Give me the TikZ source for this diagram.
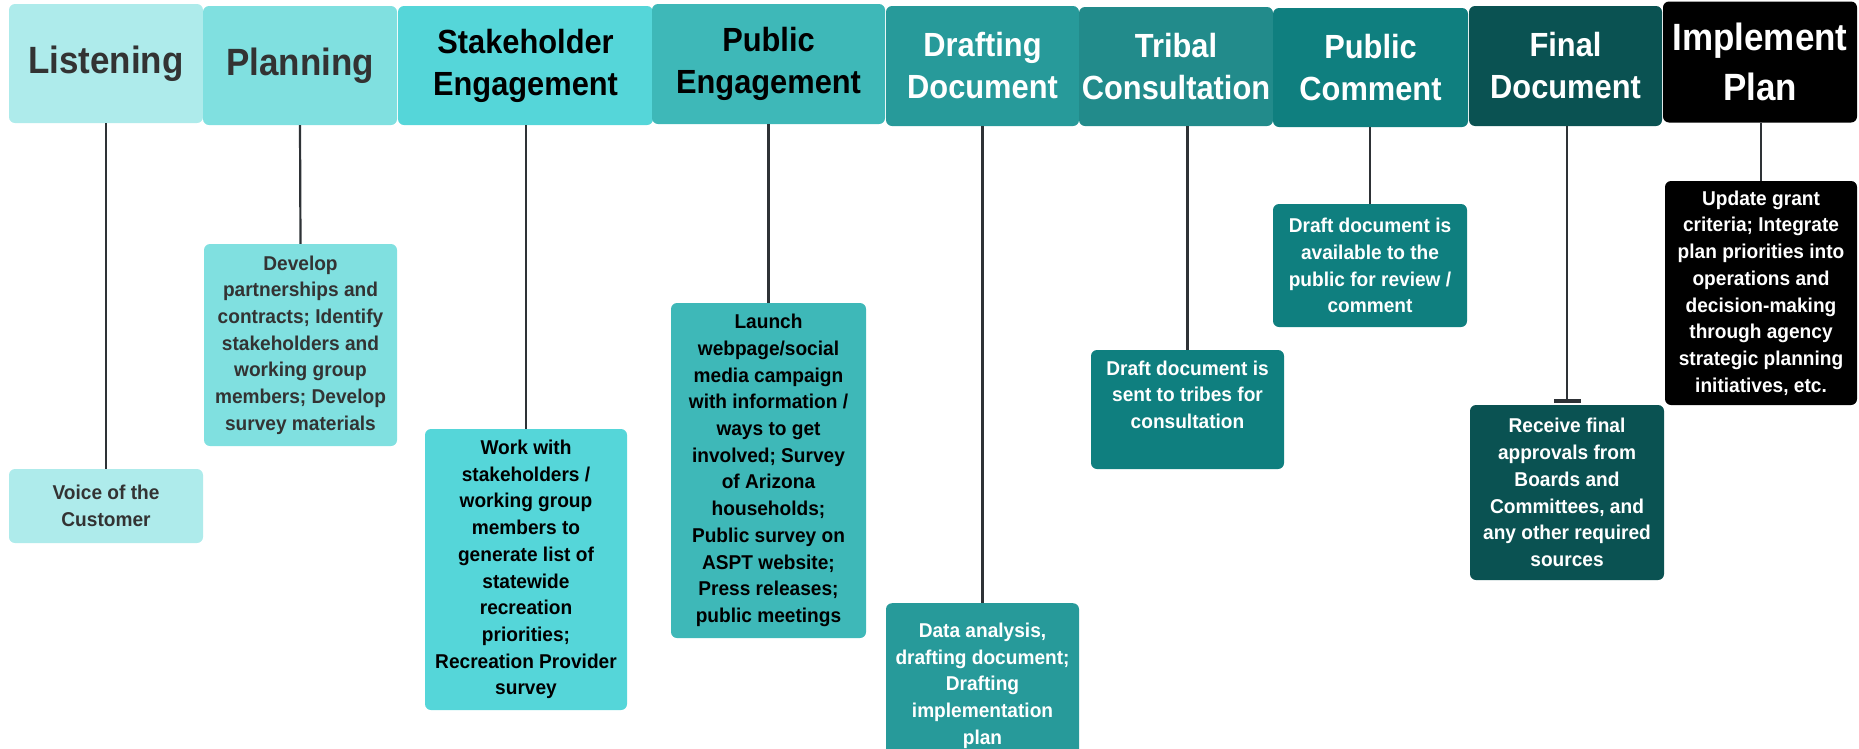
\documentclass[tikz,border=0pt]{standalone}
\usepackage{fontspec}
\setmainfont{Liberation Sans}[FakeStretch=0.955]
\newfontfamily\hdrfont{Liberation Sans}[FakeStretch=0.92]
\usetikzlibrary{arrows.meta}
\definecolor{cA}{HTML}{AEEBEB}
\definecolor{cB}{HTML}{80E0E0}
\definecolor{cC}{HTML}{55D6D9}
\definecolor{cD}{HTML}{3EB8B8}
\definecolor{cE}{HTML}{279A9A}
\definecolor{cF}{HTML}{228B8B}
\definecolor{cFd}{HTML}{0F7F7F}
\definecolor{cG}{HTML}{0F7F7F}
\definecolor{cH}{HTML}{0A5252}
\definecolor{cI}{HTML}{000000}
\definecolor{grayText}{HTML}{333333}
\definecolor{linec}{HTML}{2E3236}
\tikzset{
  x=1pt, y=-1pt,
  hdr/.style={rounded corners=6pt, inner sep=0pt, align=center,
    font=\hdrfont\bfseries\fontsize{33.5}{42}\selectfont},
  hdrbig/.style={hdr, font=\hdrfont\bfseries\fontsize{38}{44}\selectfont},
  det/.style={rounded corners=6pt, inner sep=0pt, align=center,
    font=\bfseries\fontsize{20}{26.7}\selectfont},
  dettext/.style={inner sep=0pt, align=center,
    font=\bfseries\fontsize{20}{26.7}\selectfont},
  link/.style={draw=linec, line width=2.2pt}
}
\begin{document}
\begin{tikzpicture}
\useasboundingbox (0,0) rectangle (1859,748);
% headers
\node[hdrbig, fill=cA, text=grayText, minimum width=194pt, minimum height=119pt] (hL) at (106,63.5) {Listening};
\node[hdrbig, fill=cB, text=grayText, minimum width=194pt, minimum height=119pt] (hP) at (300,65.5) {Planning};
\node[hdr, fill=cC, text=black, minimum width=255pt, minimum height=119pt] (hS) at (525.5,65.5) {Stakeholder\\Engagement};
\node[hdr, fill=cD, text=black, minimum width=233pt, minimum height=120pt] (hPE) at (768.5,64) {Public\\Engagement};
\node[hdr, fill=cE, text=white, minimum width=193pt, minimum height=120pt] (hD) at (982.5,66) {Drafting\\Document};
\node[hdr, fill=cF, text=white, minimum width=194pt, minimum height=119pt] (hT) at (1176,66.5) {Tribal\\Consultation};
\node[hdr, fill=cG, text=white, minimum width=195pt, minimum height=119pt] (hPC) at (1370.5,67.5) {Public\\Comment};
\node[hdr, fill=cH, text=white, minimum width=193pt, minimum height=120pt] (hF) at (1565.5,66) {Final\\Document};
\node[hdr, fill=cI, text=white, minimum width=194pt, minimum height=121pt,
  font=\hdrfont\bfseries\fontsize{38}{50}\selectfont] (hI) at (1760,62) {Implement\\Plan};
% details
\node[det, fill=cA, text=grayText, minimum width=194pt, minimum height=74pt] (dL) at (106,506) {Voice of the\\Customer};
\node[det, fill=cB, text=grayText, minimum width=193pt, minimum height=202pt] (dP) at (300.5,345) {Develop\\partnerships and\\contracts; Identify\\stakeholders and\\working group\\members; Develop\\survey materials};
\node[det, fill=cC, text=black, minimum width=202pt, minimum height=281pt] (dS) at (526,569.5) {Work with\\stakeholders /\\working group\\members to\\generate list of\\statewide\\recreation\\priorities;\\Recreation Provider\\survey};
\node[det, fill=cD, text=black, minimum width=195pt, minimum height=335pt] (dPE) at (768.5,470.5) {Launch\\webpage/social\\media campaign\\with information /\\ways to get\\involved; Survey\\of Arizona\\households;\\Public survey on\\ASPT website;\\Press releases;\\public meetings};
\node[det, fill=cE, text=white, minimum width=193pt, minimum height=165pt, anchor=north] (dD) at (982.5,603) {Data analysis,\\drafting document;\\Drafting\\implementation\\plan};
\node[det, fill=cFd, minimum width=193pt, minimum height=119pt] (dT) at (1187.5,409.5) {};
\node[dettext, text=white, anchor=north] (dTt) at (1187.5,360.5) {Draft document is\\sent to tribes for\\consultation};
\node[det, fill=cG, text=white, minimum width=194pt, minimum height=123pt] (dPC) at (1370,265.5) {Draft document is\\available to the\\public for review /\\comment};
\node[det, fill=cH, text=white, minimum width=194pt, minimum height=175pt] (dF) at (1567,492.5) {Receive final\\approvals from\\Boards and\\Committees, and\\any other required\\sources};
\node[det, fill=cI, text=white, minimum width=192pt, minimum height=224pt] (dI) at (1761,293) {Update grant\\criteria; Integrate\\plan priorities into\\operations and\\decision-making\\through agency\\strategic planning\\initiatives, etc.};
% connectors
\draw[link] (hL.south) -- (dL.north);
\draw[link] (hP.south) -- (dP.north);
\draw[link] (dS.north |- hS.south) -- (dS.north);
\draw[link] (hPE.south) -- (dPE.north);
\draw[link] (hD.south) -- (dD.north);
\draw[link] (dT.north |- hT.south) -- (dT.north);
\draw[link] (dPC.north |- hPC.south) -- (dPC.north);
\draw[link, -{Bar[width=27pt, line width=3.5pt]}] (dF.north |- hF.south) -- ([yshift=2pt]dF.north);
\draw[link] (dI.north |- hI.south) -- (dI.north);
\end{tikzpicture}
\end{document}
